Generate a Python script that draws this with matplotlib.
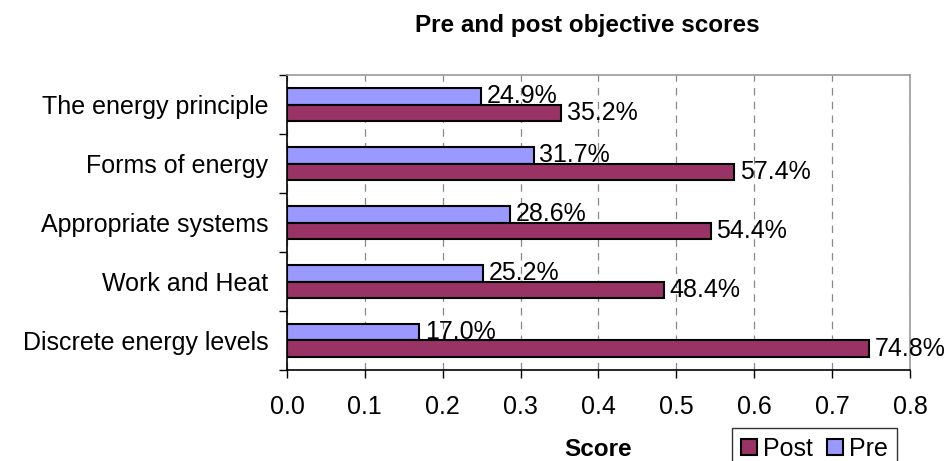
import matplotlib
matplotlib.use("Agg")
import matplotlib.pyplot as plt
import numpy as np
from matplotlib.patches import Patch

plt.rcParams["font.family"] = ["Liberation Sans", "DejaVu Sans"]

categories = ["The energy principle", "Forms of energy", "Appropriate systems",
              "Work and Heat", "Discrete energy levels"]
pre_scores = [0.249, 0.317, 0.286, 0.252, 0.170]
post_scores = [0.352, 0.574, 0.544, 0.484, 0.748]
x_ticks = [0.0, 0.1, 0.2, 0.3, 0.4, 0.5, 0.6, 0.7, 0.8]

post_color = "#993366"
pre_color = "#9999FF"

fig = plt.figure(figsize=(9.49, 4.61), dpi=100)
ax = fig.add_axes([0.3024, 0.1974, 0.6565, 0.6399])

y = np.arange(len(categories))
h = 0.288
ax.barh(y - h / 2, pre_scores, height=h, color=pre_color, edgecolor="black", linewidth=1.5, zorder=3)
ax.barh(y + h / 2, post_scores, height=h, color=post_color, edgecolor="black", linewidth=1.5, zorder=3)

for yi, v in zip(y, pre_scores):
    ax.annotate(f"{v * 100:.1f}%", (v, yi - h / 2), xytext=(4, 0), textcoords="offset points",
                va="center", ha="left", fontsize=18, zorder=4)
for yi, v in zip(y, post_scores):
    ax.annotate(f"{v * 100:.1f}%", (v, yi + h / 2), xytext=(4, 0), textcoords="offset points",
                va="center", ha="left", fontsize=18, zorder=4)

ax.set_xlim(0, 0.8)
ax.set_ylim(len(categories) - 0.5, -0.5)
ax.set_xticks(x_ticks)
ax.set_xticklabels([f"{t:.1f}" for t in x_ticks], fontsize=18)
ax.set_yticks(np.arange(len(categories) + 1) - 0.5)
ax.set_yticklabels([])
ax.set_yticks(y, minor=True)
ax.set_yticklabels(categories, minor=True, fontsize=18)
ax.tick_params(axis="y", which="minor", length=0, pad=13.5)
ax.tick_params(axis="y", which="major", length=6, width=1, direction="out")
ax.tick_params(axis="x", length=6, width=1, direction="out", pad=12)

ax.grid(axis="x", color="#888888", linestyle=(0, (6, 5)), linewidth=0.9, zorder=0)
for s in ["top", "right"]:
    ax.spines[s].set_color("#999999")
    ax.spines[s].set_linewidth(1.2)
for s in ["left", "bottom"]:
    ax.spines[s].set_color("black")
    ax.spines[s].set_linewidth(1.2)

fig.text(0.6185, 0.9306, "Pre and post objective scores", ha="center", va="baseline",
         fontsize=17.5, fontweight="bold")
fig.text(0.630, 0.001, "Score", ha="center", va="bottom", fontsize=17.5, fontweight="bold")

handles = [Patch(facecolor=post_color, edgecolor="black", linewidth=1.5),
           Patch(facecolor=pre_color, edgecolor="black", linewidth=1.5)]
leg = fig.legend(handles, ["Post", "Pre"], loc="upper left", bbox_to_anchor=(0.7713, 0.0716),
                 ncol=2, frameon=True, fancybox=False, fontsize=18, handlelength=0.64,
                 handleheight=0.64, handletextpad=0.24, columnspacing=0.56, borderpad=0.36,
                 borderaxespad=0)
leg.get_frame().set_edgecolor("black")
leg.get_frame().set_linewidth(1.0)

fig.savefig("out.png", dpi=100)
